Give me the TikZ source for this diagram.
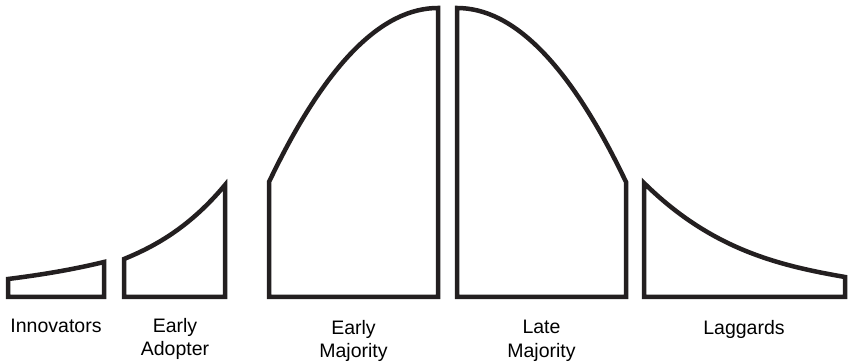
\documentclass[tikz,border=0pt]{standalone}
\usepackage{fontspec}
\setmainfont{Liberation Sans}
\definecolor{curveink}{RGB}{35,31,32}
\tikzset{
    segment/.style={draw=curveink, line width=4.5pt, line join=miter},
    adopter/.style={font=\fontsize{19.5}{23.5}\selectfont, align=center, anchor=north, inner sep=0pt}
}
\begin{document}
\begin{tikzpicture}[x=1pt, y=1pt]
        \useasboundingbox (0,0) rectangle (848,363);
        % Tails of the curve
        \draw[segment] (8,66) -- (8,84) .. controls (40,88) and (72,93.2) .. (104,101) -- (104,66) -- cycle;
        \draw[segment] (124,66) -- (124,104) .. controls (157.7,117.7) and (191.3,137.6) .. (225,178) -- (225,66) -- cycle;
        % Two halves of the peak
        \draw[segment] (269,66) -- (269,181) .. controls (325.3,299) and (381.7,355) .. (438,355) -- (438,66) -- cycle;
        \draw[segment] (457,66) -- (457,355) .. controls (513.3,355) and (569.7,299) .. (626,181) -- (626,66) -- cycle;
        % Right tail
        \draw[segment] (644,66) -- (644,180) .. controls (711,113.9) and (778,97.6) .. (845,86) -- (845,66) -- cycle;

        % Labels
        \node (innovators) at (56,44) [adopter] {Innovators};
        \node (early) at (175,45) [adopter] {Early\\Adopter};
        \node (earlymaj) at (353.5,43) [adopter] {Early\\Majority};
        \node (latemaj) at (541.5,43) [adopter] {Late\\Majority};
        \node (laggards) at (744,43) [adopter] {Laggards};
    \end{tikzpicture}
\end{document}
